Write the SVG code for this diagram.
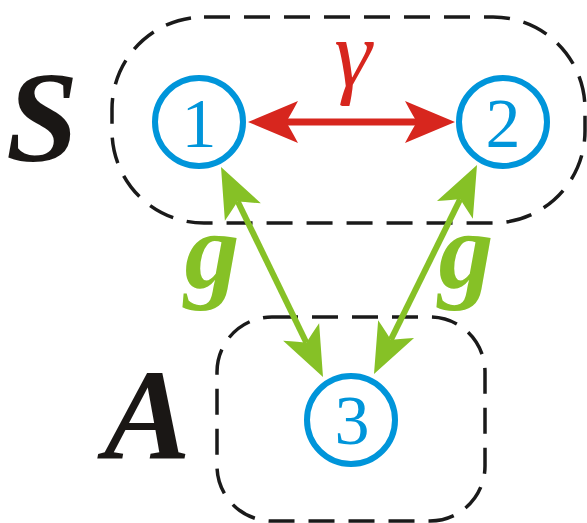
<svg xmlns="http://www.w3.org/2000/svg" width="587" height="523" viewBox="0 0 587 523">
<defs>
<path id="headR" d="M0,0 L-50,-21 Q-42,-6 -38,0 Q-42,6 -50,21 Z" fill="#d7261e"/>
<path id="headG" d="M0,0 L-50,-20 Q-42,-6 -38,0 Q-42,6 -50,20 Z" fill="#86c126"/>
</defs>
<g id="groups" fill="none" stroke="#1a1a1a" stroke-width="3.5" stroke-dasharray="26 14">
<rect id="groupS" x="112" y="17" width="473" height="206" rx="92" ry="92"/>
<rect id="groupA" x="217" y="317" width="268" height="204" rx="55" ry="55"/>
</g>
<text id="labelS" x="6" y="161" font-family="Liberation Serif, Times New Roman, serif" font-weight="bold" font-style="italic" font-size="130" fill="#1a1715">S</text>
<text id="labelA" x="104" y="458" font-family="Liberation Serif, Times New Roman, serif" font-weight="bold" font-style="italic" font-size="130" fill="#1a1715">A</text>
<g id="connectors">
<line x1="286" y1="122" x2="417" y2="122" stroke="#d7261e" stroke-width="7"/>
<use href="#headR" transform="translate(455,122)"/>
<use href="#headR" transform="translate(248,122) rotate(180)"/>
<line x1="237.6" y1="201.2" x2="306.4" y2="342.8" stroke="#86c126" stroke-width="6"/>
<use href="#headG" transform="translate(323,377) rotate(64.07)"/>
<use href="#headG" transform="translate(221,167) rotate(244.07)"/>
<line x1="460.2" y1="199.1" x2="390.8" y2="339.9" stroke="#86c126" stroke-width="6"/>
<use href="#headG" transform="translate(374,374) rotate(116.23)"/>
<use href="#headG" transform="translate(477,165) rotate(-63.77)"/>
<text x="353" y="86" text-anchor="middle" font-family="Liberation Serif, Times New Roman, serif" font-style="italic" font-size="95" fill="#d7261e">γ</text>
<text x="212" y="288" text-anchor="middle" font-family="Liberation Serif, Times New Roman, serif" font-style="italic" font-weight="bold" font-size="110" fill="#86c126">g</text>
<text x="466" y="288" text-anchor="middle" font-family="Liberation Serif, Times New Roman, serif" font-style="italic" font-weight="bold" font-size="110" fill="#86c126">g</text>
</g>
<g id="node1"><circle cx="199" cy="122" r="44" fill="#fff" stroke="#0095da" stroke-width="6"/><text x="199" y="147" text-anchor="middle" font-family="Liberation Serif, Times New Roman, serif" font-size="70" fill="#0095da">1</text></g>
<g id="node2"><circle cx="503" cy="122" r="44" fill="#fff" stroke="#0095da" stroke-width="6"/><text x="503" y="147" text-anchor="middle" font-family="Liberation Serif, Times New Roman, serif" font-size="70" fill="#0095da">2</text></g>
<g id="node3"><circle cx="351" cy="420" r="44" fill="#fff" stroke="#0095da" stroke-width="6"/><text x="352" y="444" text-anchor="middle" font-family="Liberation Serif, Times New Roman, serif" font-size="70" fill="#0095da">3</text></g>
</svg>
